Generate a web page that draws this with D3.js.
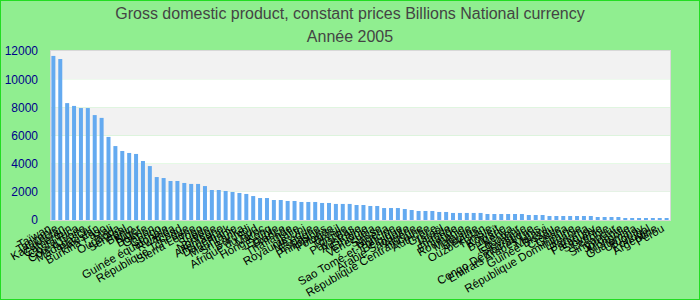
<!DOCTYPE html>
<html><head><meta charset="utf-8">
<script src="https://cdn.jsdelivr.net/npm/d3@7"></script>
<style>html,body{margin:0;padding:0;background:#90EE90;}svg{display:block;}</style>
</head><body>
<script>
const countries = ["Taïwan","Tanzanie","Kazakhstan","Cameroun","Costa Rica","Côte d'Ivoire","Madagascar","Pakistan","Burkina Faso","Mali",
"Ouganda","Sénégal","Bénin","Niger","Bolivie","Gabon","Congo","Guinée équatoriale","Rwanda","Tchad",
"République Tchèque","Sierra Leone","Togo","Suède","Norvège","Allemagne","Danemark","Mauritanie","Sri Lanka","Burundi",
"Afrique du Sud","Maroc","Hong Kong","Égypte","France","Thaïlande","Italie","Royaume-Uni","Mexique","Espagne",
"Philippines","Pologne","Brésil","Turquie","Pays-Bas","Australie","Éthiopie","Venezuela","Suisse","Nigeria",
"Sao Tomé-et-Principe","Belgique","Arabie Saoudite","Algérie","République Centrafricaine","Autriche","Grèce","Israël","Irlande","Finlande",
"Roumanie","Malaisie","Ukraine","Ouzbékistan","Tunisie","Koweït","Bulgarie","Kenya","Équateur","Slovaquie",
"Congo Démocratique","Emirats Arabes Unis","Malawi","Guinée-Bissau","Croatie","Ghana","République Dominicaine","Lituanie","Panama","Paraguay",
"Slovénie","Lettonie","Singapour","Jordanie","Mongolie","Guatemala","Uruguay","Portugal","Argentine","Pérou"];
const values = [11650,11430,8300,8100,7950,7950,7450,7250,5900,5250,
4900,4760,4690,4190,3830,3050,2980,2770,2770,2630,
2560,2560,2410,2130,2130,2060,1990,1920,1850,1700,
1560,1560,1420,1420,1350,1350,1280,1280,1280,1210,
1210,1140,1140,1140,1065,1065,995,995,850,850,
850,780,710,640,640,640,570,570,500,500,
500,500,500,426,426,426,426,426,426,355,
355,355,284,284,284,284,284,284,284,213,
213,213,213,142,142,142,142,142,142,142];
const yTicks = [0,2000,4000,6000,8000,10000,12000];
const titleLines = ["Gross domestic product, constant prices Billions National currency","Année 2005"];

const W=700,H=300, m={l:50,r:30,t:51,b:80};
const svg=d3.select("body").append("svg").attr("width",W).attr("height",H);
svg.append("rect").attr("x",0.5).attr("y",0.5).attr("width",W-1).attr("height",H-1)
  .attr("fill","#90EE90").attr("stroke","#22dd22").attr("stroke-width",1);
const x=d3.scaleBand().domain(countries).range([m.l,W-m.r]).paddingInner(0.42).paddingOuter(0.2);
const y=d3.scaleLinear().domain([0,12000]).range([H-m.b,m.t]);
for(let i=0;i<yTicks.length-1;i++){
  svg.append("rect").attr("x",m.l).attr("width",W-m.r-m.l)
    .attr("y",y(yTicks[i+1])).attr("height",y(yTicks[i])-y(yTicks[i+1]))
    .attr("fill", i%2===0?"#ffffff":"#f2f2f2");
}
svg.append("rect").attr("x",m.l+0.5).attr("y",m.t-0.5).attr("width",W-m.r-m.l).attr("height",H-m.b-m.t+1)
  .attr("fill","none").attr("stroke","#d8d8d8");
svg.append("g").selectAll("rect").data(values).join("rect")
  .attr("x",(d,i)=>x(countries[i])).attr("width",x.bandwidth())
  .attr("y",d=>y(d)).attr("height",d=>y(0)-y(d)).attr("fill","#64aaf0");
const ya=svg.append("g").attr("transform",`translate(${m.l-9},0)`)
  .call(d3.axisLeft(y).tickValues(yTicks).tickSize(0).tickFormat(d3.format("d")));
ya.select(".domain").remove();
ya.selectAll("text").attr("fill","#00008b").style("font-family","Liberation Sans, Arial, sans-serif").style("font-size","12px");
const xa=svg.append("g").attr("transform",`translate(0,${H-m.b})`)
  .call(d3.axisBottom(x).tickSize(0));
xa.select(".domain").remove();
xa.selectAll("text").attr("fill","#000").style("font-family","Liberation Sans, Arial, sans-serif").style("font-size","11.5px")
  .attr("text-anchor","end").attr("dy","0").attr("transform","translate(-3,8) rotate(-30)");
svg.selectAll(".title").data(titleLines).join("text").attr("class","title")
  .attr("x",W/2).attr("y",(d,i)=>19+i*23).attr("text-anchor","middle")
  .attr("fill","#444").style("font-family","Liberation Sans, Arial, sans-serif").style("font-size","16px").text(d=>d);
</script>
</body></html>
